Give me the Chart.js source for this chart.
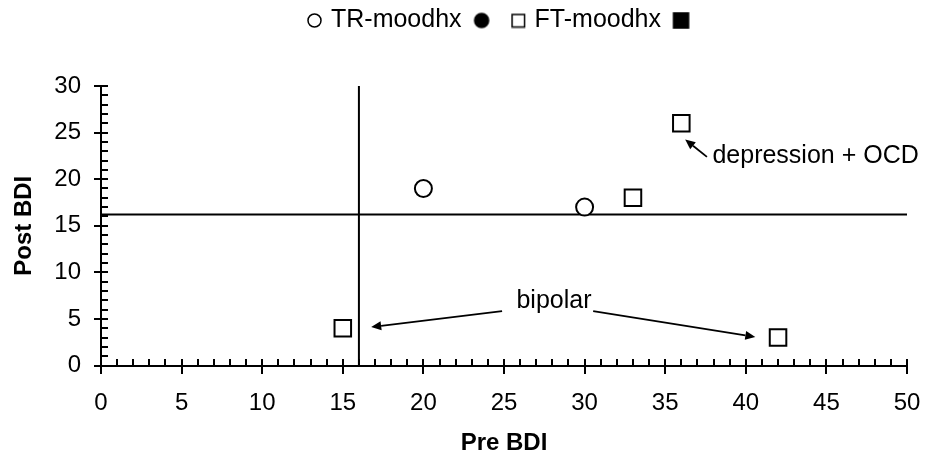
<!DOCTYPE html>
<html>
<head>
<meta charset="utf-8">
<script src="https://cdn.jsdelivr.net/npm/chart.js@4.4.0/dist/chart.umd.min.js"></script>
<style>
  html, body { margin: 0; padding: 0; background: #fff; }
  #wrap { width: 930px; height: 459px; }
</style>
</head>
<body>
<div id="wrap"><canvas id="chart"></canvas></div>
<script>
// data
const seriesNames = ['TR-moodhx', '', 'FT-moodhx', ''];
const trPre = [20, 30];
const trPost = [19, 17];
const ftPre = [15, 33, 36, 42];
const ftPost = [4, 18, 26, 3];
const xTickValues = [0, 5, 10, 15, 20, 25, 30, 35, 40, 45, 50];
const yTickValues = [0, 5, 10, 15, 20, 25, 30];
const preCut = 16;     // vertical reference line
const postCut = 16.2;  // horizontal reference line

// call-outs, in data units
const noteLabels = [
  { text: 'bipolar', x: 28.1, y: 6.16, align: 'center' },
  { text: 'depression + OCD', x: 37.93, y: 21.7, align: 'left' }
];
const noteArrows = [
  { from: [24.88, 5.84], to: [16.76, 4.13] },
  { from: [30.53, 5.84], to: [40.59, 3.06] },
  { from: [37.59, 22.39], to: [36.24, 24.25] }
];

const FONT = "'Liberation Sans', Arial, Helvetica, sans-serif";
Chart.defaults.font.family = FONT;
Chart.defaults.font.size = 24;
Chart.defaults.color = '#000';

const toPoints = (xs, ys) => xs.map((v, i) => ({ x: v, y: ys[i] }));

// small legend swatches (excel draws them at their own size)
function swatch(shape, size, filled) {
  const c = document.createElement('canvas');
  c.width = size + 4;
  c.height = size + 4;
  const g = c.getContext('2d');
  g.lineWidth = 1.5;
  g.strokeStyle = '#000';
  g.fillStyle = filled ? '#000' : '#fff';
  g.beginPath();
  if (shape === 'circle') g.arc(c.width / 2, c.height / 2, size / 2, 0, Math.PI * 2);
  else g.rect(2, 2, size, size);
  g.fill();
  g.stroke();
  return c;
}
const legendSwatches = [
  swatch('circle', 13, false),
  swatch('circle', 14, true),
  swatch('rect', 12.5, false),
  swatch('rect', 15, true)
];

// extra room under the legend
const legendGap = {
  id: 'legendGap',
  beforeLayout(chart) {
    const lg = chart.legend;
    if (!lg || lg._gapFit) return;
    const fit = lg.fit;
    lg.fit = function () { fit.call(this); this.height = 94; };
    lg._gapFit = true;
  }
};

// excel style ticks: major ones cross the axis, minor ones inside
const axisTicks = {
  id: 'axisTicks',
  afterDatasetsDraw(chart) {
    const { ctx, scales: { x, y } } = chart;
    const xb = Math.round(y.getPixelForValue(y.min));
    const yl = Math.round(x.getPixelForValue(x.min));
    ctx.save();
    ctx.strokeStyle = '#000';
    ctx.lineWidth = 2;
    ctx.beginPath();
    for (let v = x.min; v <= x.max; v++) {
      const px = Math.round(x.getPixelForValue(v));
      if (v % 5 === 0) { ctx.moveTo(px, xb - 7); ctx.lineTo(px, xb + 8); }
      else { ctx.moveTo(px, xb); ctx.lineTo(px, xb - 7); }
    }
    for (let v = y.min; v <= y.max; v++) {
      const py = Math.round(y.getPixelForValue(v));
      if (v % 5 === 0) { ctx.moveTo(yl - 7, py); ctx.lineTo(yl + 7, py); }
      else { ctx.moveTo(yl, py); ctx.lineTo(yl + 7, py); }
    }
    ctx.stroke();
    ctx.restore();
  }
};

const callouts = {
  id: 'callouts',
  afterDatasetsDraw(chart) {
    const { ctx, scales: { x, y } } = chart;
    ctx.save();
    ctx.fillStyle = '#000';
    ctx.strokeStyle = '#000';
    ctx.font = '25px ' + FONT;
    ctx.textBaseline = 'alphabetic';
    noteLabels.forEach(n => {
      ctx.textAlign = n.align;
      ctx.fillText(n.text, x.getPixelForValue(n.x), y.getPixelForValue(n.y));
    });
    ctx.lineWidth = 1.8;
    noteArrows.forEach(a => {
      const x1 = x.getPixelForValue(a.from[0]), y1 = y.getPixelForValue(a.from[1]);
      const x2 = x.getPixelForValue(a.to[0]), y2 = y.getPixelForValue(a.to[1]);
      const ang = Math.atan2(y2 - y1, x2 - x1);
      const head = 10, wing = 4.5;
      const bx = x2 - head * Math.cos(ang), by = y2 - head * Math.sin(ang);
      ctx.beginPath();
      ctx.moveTo(x1, y1);
      ctx.lineTo(bx, by);
      ctx.stroke();
      ctx.beginPath();
      ctx.moveTo(x2, y2);
      ctx.lineTo(bx + wing * Math.sin(ang), by - wing * Math.cos(ang));
      ctx.lineTo(bx - wing * Math.sin(ang), by + wing * Math.cos(ang));
      ctx.closePath();
      ctx.fill();
    });
    ctx.restore();
  }
};

const markerSet = (label, style, radius, fill, data) => ({
  label: label,
  data: data,
  pointStyle: style,
  pointRadius: radius,
  pointHoverRadius: radius,
  borderColor: '#000',
  pointBorderColor: '#000',
  backgroundColor: fill,
  pointBackgroundColor: fill,
  pointBorderWidth: 2,
  order: 1
});

const refLine = (data) => ({
  label: '_ref',
  data: data,
  showLine: true,
  borderColor: '#000',
  borderWidth: 2,
  pointRadius: 0,
  order: 2
});

new Chart(document.getElementById('chart'), {
  type: 'scatter',
  data: {
    datasets: [
      markerSet(seriesNames[0], 'circle', 8.5, '#fff', toPoints(trPre, trPost)),
      markerSet(seriesNames[1], 'circle', 8.5, '#000', []),
      markerSet(seriesNames[2], 'rect', 11.7, '#fff', toPoints(ftPre, ftPost)),
      markerSet(seriesNames[3], 'rect', 11.7, '#000', []),
      refLine([{ x: preCut, y: yTickValues[0] }, { x: preCut, y: yTickValues[yTickValues.length - 1] }]),
      refLine([{ x: xTickValues[0], y: postCut }, { x: xTickValues[xTickValues.length - 1], y: postCut }])
    ]
  },
  options: {
    responsive: true,
    maintainAspectRatio: false,
    animation: false,
    layout: { padding: { top: -8, right: 0, left: 0, bottom: 0 } },
    plugins: {
      tooltip: { enabled: false },
      legend: {
        position: 'top',
        fullSize: false,
        labels: {
          usePointStyle: true,
          boxWidth: 8,
          boxHeight: 11,
          padding: 16,
          color: '#000',
          font: { size: 25 },
          generateLabels(chart) {
            return Chart.defaults.plugins.legend.labels.generateLabels(chart)
              .filter(l => l.text !== '_ref')
              .map((l, i) => Object.assign(l, { pointStyle: legendSwatches[i] }));
          }
        }
      }
    },
    scales: {
      x: {
        type: 'linear',
        min: xTickValues[0],
        max: xTickValues[xTickValues.length - 1],
        afterBuildTicks(s) { s.ticks = xTickValues.map(v => ({ value: v })); },
        afterFit(s) { s.height = 93.5; s.paddingLeft = 0; s.paddingRight = 23; },
        grid: { display: false, drawTicks: false },
        border: { color: '#000', width: 2 },
        ticks: { padding: 23, color: '#000', font: { size: 24 } },
        title: { display: true, text: 'Pre BDI', color: '#000', font: { size: 24, weight: 'bold' }, padding: { top: 0, bottom: 1 } }
      },
      y: {
        type: 'linear',
        min: yTickValues[0],
        max: yTickValues[yTickValues.length - 1],
        afterBuildTicks(s) { s.ticks = yTickValues.map(v => ({ value: v })); },
        afterFit(s) { s.width = 101; },
        grid: { display: false, drawTicks: false },
        border: { color: '#000', width: 2 },
        ticks: { padding: 20, color: '#000', font: { size: 24 } },
        title: { display: true, text: 'Post BDI', color: '#000', font: { size: 24, weight: 'bold' }, padding: { top: 10, bottom: 0 } }
      }
    }
  },
  plugins: [legendGap, axisTicks, callouts]
});
</script>
</body>
</html>
